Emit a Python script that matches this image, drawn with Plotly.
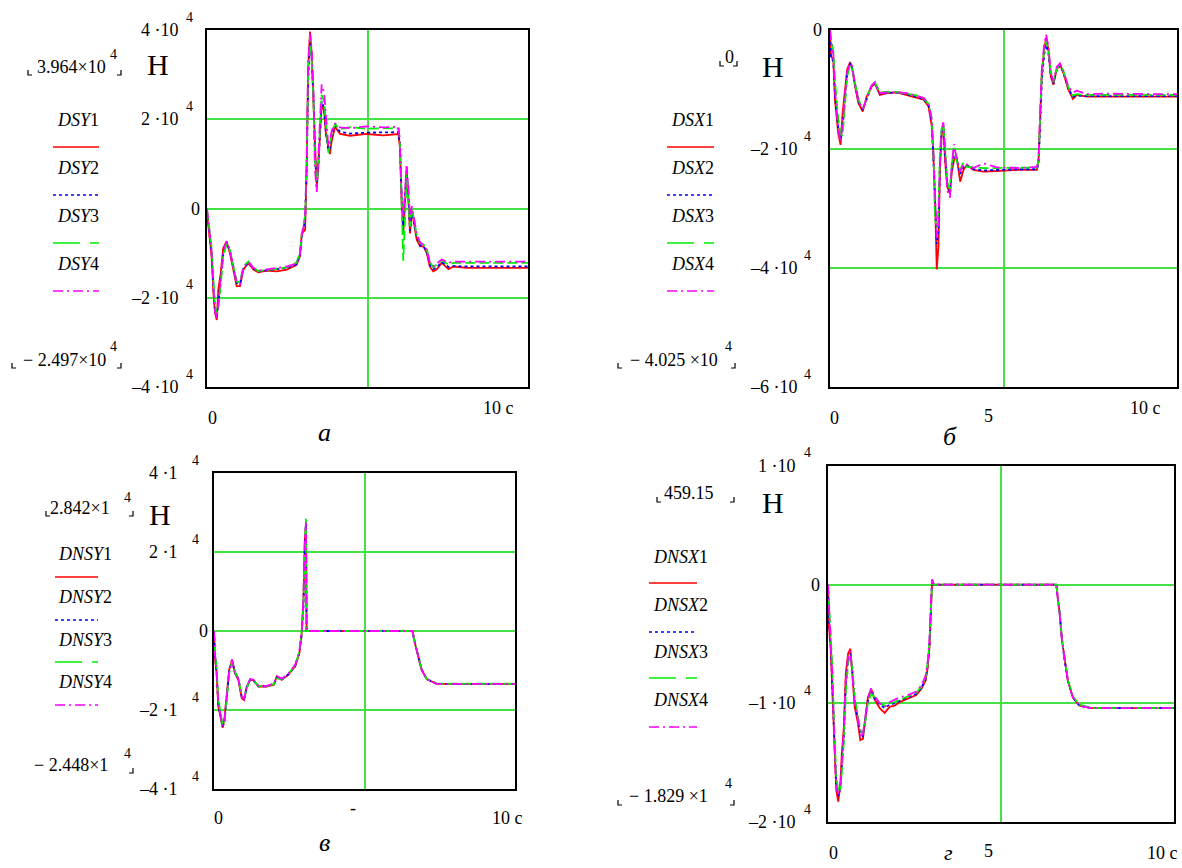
import plotly.graph_objects as go

W, H = 1182, 868

# ---------------- DATA ----------------
# Panel а : DSY (N) vs time (s)
t_a = [0, 0.08, 0.15, 0.21, 0.26, 0.32, 0.37, 0.45, 0.53, 0.64, 0.75, 0.86, 0.97, 1.08, 1.19, 1.35,
       1.52, 1.68, 1.95, 2.28, 2.61, 2.93, 3.04, 3.10, 3.21, 3.26, 3.31, 3.37, 3.42, 3.48, 3.53, 3.59,
       3.64, 3.70, 3.75, 3.83, 3.89, 3.97, 4.02, 4.08, 4.19, 4.35, 4.68, 5.22, 5.77, 6.26, 6.31, 6.37,
       6.42, 6.48, 6.53, 6.59, 6.64, 6.70, 6.75, 6.86, 6.97, 7.08, 7.19, 7.29, 7.40, 7.51, 7.68, 7.90,
       8.06, 8.49, 10.5]
DSY1 = [-1100, -5600, -10700, -18900, -23300, -24970, -18100, -14400, -8900, -7400, -10000, -13700, -17400,
        -17400, -13700, -12200, -13700, -14300, -13900, -14100, -13700, -12600, -10700, -5600, -4800, 9300,
        31500, 39640, 35200, 24100, 13000, 4800, 9300, 16700, 23300, 21900, 16700, 13700, 12200, 15200,
        18300, 16700, 16300, 16700, 16400, 16700, 13700, 400, -5600, 1900, 9300, 1900, -5600, -400, -2600,
        -7000, -8500, -8500, -10000, -13000, -14100, -13700, -12200, -13600, -13000, -13300, -13300]
DSY2 = [-600, -5000, -9800, -17500, -22800, -24400, -21500, -16000, -10200, -7700, -9600, -13200, -16700,
        -16800, -13400, -12100, -13500, -14100, -13800, -13600, -13300, -12500, -10500, -6500, -2500, 8500,
        29000, 37000, 34000, 26000, 12500, 5000, 9500, 17200, 24000, 22500, 17000, 13000, 13500, 16500,
        18600, 17200, 16800, 17000, 17000, 17100, 14500, 1500, -4000, 3000, 8500, 2500, -5000, -800, -2200,
        -6500, -8300, -8400, -9700, -12600, -13600, -13200, -12000, -13100, -12900, -13000, -13000]
DSY3 = [-300, -4200, -8600, -16000, -21500, -23800, -22500, -17000, -10800, -7900, -9300, -12800, -16400,
        -16500, -13000, -11900, -13300, -14000, -13700, -13500, -13200, -12100, -9800, -5800, -1500, 9800,
        30500, 38500, 33500, 25000, 11500, 4200, 10500, 19000, 25500, 24000, 18500, 12500, 14200, 17200,
        18900, 17800, 18200, 17900, 18000, 17900, 15500, -2000, -11700, -2000, 7500, 1000, -4000, 200, -1500,
        -6000, -7800, -8000, -9000, -12000, -13200, -12600, -11600, -12600, -12200, -12200, -12200]
DSY4 = [0, -4500, -9500, -17800, -23000, -24600, -20500, -15500, -9600, -7300, -9400, -13000, -16600,
        -16900, -13200, -11900, -13300, -13900, -13600, -13300, -13000, -12300, -10200, -6200, -2000, 11000,
        33000, 39200, 36000, 27000, 9000, 3700, 11000, 20500, 27800, 26000, 20000, 14000, 15000, 17500,
        19000, 18200, 18000, 18400, 18200, 18300, 15000, 2500, -2000, 4000, 9500, 4500, -2500, 500, -1200,
        -5800, -7600, -8200, -9300, -12200, -13000, -12400, -11400, -12200, -11900, -11900, -11900]

# Panel б : DSX
t_b = [0, 0.03, 0.10, 0.15, 0.25, 0.32, 0.38, 0.45, 0.52, 0.61, 0.66, 0.76, 0.86, 0.99, 1.11, 1.26, 1.36,
       1.51, 1.72, 2.02, 2.32, 2.62, 2.83, 2.98, 3.08, 3.13, 3.18, 3.23, 3.28, 3.33, 3.38, 3.43, 3.48,
       3.55, 3.63, 3.68, 3.75, 3.83, 3.94, 4.04, 4.14, 4.34, 4.64, 5.05, 5.75, 6.26, 6.31, 6.36, 6.41,
       6.48, 6.54, 6.61, 6.68, 6.76, 6.86, 6.96, 7.06, 7.21, 7.35, 7.47, 7.77, 8.27, 10.5]
DSX1 = [0, -4400, -5000, -11700, -17400, -19300, -14000, -10600, -6600, -5400, -6100, -9500, -12300, -13700,
        -11200, -9500, -9000, -10900, -10600, -10500, -10900, -11300, -11700, -12800, -16200, -21300, -28600,
        -40250, -36500, -23000, -17400, -16200, -21900, -26400, -27500, -24100, -21900, -21300, -25500,
        -23500, -22700, -23500, -23800, -23700, -23500, -23500, -21900, -14500, -7200, -3300, -1300, -3300,
        -7800, -9200, -6600, -5800, -7200, -10000, -11600, -10900, -11200, -11200, -11200]
DSX2 = [0, -4800, -5200, -11000, -16500, -18500, -16500, -11500, -7200, -5700, -6000, -9200, -12000, -13400,
        -11500, -9400, -8900, -10700, -10600, -10500, -10800, -11200, -11600, -12600, -15500, -22000, -30000,
        -36000, -34000, -21500, -16800, -16000, -21000, -26000, -27200, -23500, -21000, -21600, -24200,
        -23000, -22800, -23400, -23600, -23500, -23400, -23400, -22500, -16000, -8500, -4200, -2500, -4000,
        -7500, -9000, -6700, -6000, -7100, -9800, -11200, -11000, -11100, -11100, -11100]
DSX3 = [0, -1500, -3500, -8500, -15000, -17500, -17800, -12500, -7800, -5900, -6200, -9000, -11700, -13200,
        -11700, -9200, -8800, -10500, -10400, -10400, -10700, -11000, -11500, -12400, -14800, -21000, -32000,
        -33000, -30500, -20000, -16500, -15800, -19500, -25500, -26800, -22800, -19800, -22000, -23500,
        -22200, -23000, -23100, -23200, -23200, -23200, -23100, -22000, -13500, -6800, -3500, -1800, -3500,
        -7000, -8800, -6500, -5800, -6900, -9600, -11000, -10800, -10900, -10900, -10900]
DSX4 = [0, -2000, -4000, -10000, -16800, -18800, -15500, -11200, -7000, -5600, -6000, -9100, -11800, -13300,
        -11400, -9300, -8800, -10600, -10500, -10400, -10600, -11000, -11400, -12300, -15000, -20500, -29000,
        -35000, -32500, -22000, -17000, -15500, -20000, -27000, -28200, -23000, -19200, -21500, -23800,
        -22500, -22600, -23200, -22400, -23100, -23200, -23000, -21500, -14000, -6500, -2500, -800, -2800,
        -7200, -8600, -6200, -5600, -6800, -9500, -10500, -10200, -10800, -10700, -10800]

# Panel в : DNSY
t_c = [0, 0.03, 0.09, 0.15, 0.23, 0.30, 0.36, 0.44, 0.53, 0.63, 0.73, 0.85, 0.97, 1.05, 1.14, 1.26, 1.37,
       1.55, 1.84, 2.09, 2.19, 2.36, 2.59, 2.83, 2.98, 3.06, 3.12, 3.17, 3.21, 3.23, 6.92, 7.01, 7.13,
       7.24, 7.42, 7.77, 10.5]
DNSY1 = [0, -6400, -10700, -19200, -21700, -24480, -22500, -15800, -9800, -7300, -10700, -12400, -17000,
         -17500, -14100, -12400, -12400, -14100, -14100, -13600, -11500, -12400, -11100, -9000, -5600, -500,
         8000, 23200, 26500, 0, 0, -3100, -6400, -9800, -12200, -13400, -13400]
DNSY2 = [0, -6000, -10200, -18500, -21500, -24200, -23200, -16500, -10300, -7500, -10500, -12200, -16800,
         -17200, -14400, -12300, -12500, -14000, -14000, -13500, -11800, -12300, -11000, -8900, -5400, -800,
         6000, 21000, 27000, 0, 0, -3000, -6300, -9700, -12100, -13400, -13400]
DNSY3 = [0, -4500, -9000, -17000, -20800, -23800, -23600, -17200, -10800, -7700, -10300, -12000, -16500,
         -17000, -14600, -12200, -12400, -13900, -14000, -13400, -12000, -12200, -10900, -8700, -5200, -300,
         7500, 22500, 28420, 0, 0, -2900, -6200, -9600, -12100, -13300, -13300]
DNSY4 = [0, -5500, -9800, -18000, -21300, -24000, -23000, -16000, -10000, -7200, -10400, -12100, -16700,
         -17100, -14300, -12200, -12300, -13900, -13900, -13300, -11400, -12100, -10800, -8600, -5000, -200,
         8500, 24000, 27500, 0, 0, -3000, -6300, -9700, -12200, -13400, -13400]

# Panel г : DNSX
t_d = [0, 0.03, 0.08, 0.13, 0.17, 0.21, 0.25, 0.31, 0.37, 0.42, 0.48, 0.54, 0.61, 0.68, 0.74, 0.81, 0.91,
       0.98, 1.06, 1.13, 1.21, 1.31, 1.42, 1.57, 1.72, 1.87, 2.02, 2.17, 2.43, 2.68, 2.83, 2.96, 3.03,
       3.08, 3.13, 3.16, 3.21, 6.93, 6.98, 7.03, 7.10, 7.18, 7.28, 7.43, 7.63, 7.99, 10.49]
DNSX1 = [0, -3600, -5300, -8600, -12000, -14800, -17300, -18290, -17000, -14200, -12000, -7500, -5800, -5400,
         -7500, -10300, -11700, -13100, -13000, -11200, -9500, -8800, -9700, -10400, -10800, -10300, -10200,
         -9900, -9600, -9300, -8800, -8100, -6900, -5300, -1900, 400, 0, 0, -1300, -2400, -4700, -6400, -8100,
         -9500, -10200, -10400, -10400]
DNSX2 = [0, -3000, -5000, -8000, -11200, -14200, -16800, -17800, -17300, -15000, -12800, -8500, -6200, -5800,
         -7200, -9800, -11300, -12500, -12800, -11500, -9800, -9000, -9600, -10100, -10400, -10100, -10000,
         -9800, -9500, -9200, -8700, -8000, -6700, -5000, -1500, 300, 0, 0, -1300, -2400, -4600, -6400, -8100,
         -9500, -10200, -10400, -10400]
DNSX3 = [0, -1500, -4200, -6800, -10500, -13500, -16200, -17300, -17500, -15800, -13200, -9200, -6600, -6000,
         -7000, -9500, -11000, -12200, -12600, -11600, -10000, -9200, -9500, -10000, -10200, -10000, -9900,
         -9700, -9400, -9100, -8600, -7800, -6500, -4800, -1200, 200, 0, 0, -1200, -2300, -4600, -6300, -8000,
         -9400, -10100, -10400, -10400]
DNSX4 = [0, -2500, -4800, -7500, -11500, -14500, -17000, -17700, -17200, -14800, -12300, -8000, -6000, -5600,
         -7300, -9900, -11400, -12700, -12600, -11300, -9600, -8700, -9400, -10000, -10300, -9900, -9700,
         -9500, -9300, -9000, -8500, -7700, -6400, -4600, -1000, 459, 0, 0, -1300, -2400, -4700, -6400, -8100,
         -9500, -10200, -10400, -10400]

# axis tick values
yt_a = [-40000, -20000, 0, 20000, 40000]
yt_b = [-60000, -40000, -20000, 0]
yt_c = [-40000, -20000, 0, 20000, 40000]
yt_d = [-20000, -10000, 0, 10000]

COLORS = ["#ff0000", "#0000ff", "#00ee00", "#ff00ff"]
DASHES = ["solid", "3px,3px", "10px,4px", "10px,4px,2px,4px"]
GRID = "#44e044"
FONT = "Liberation Serif"
FS = 18     # main text size
SS = 14     # superscript size

fig = go.Figure()


def px(x):
    return x / W


def py(y):
    return 1 - y / H


panels = [
    ("x", "y", t_a, [DSY1, DSY2, DSY3, DSY4]),
    ("x2", "y2", t_b, [DSX1, DSX2, DSX3, DSX4]),
    ("x3", "y3", t_c, [DNSY1, DNSY2, DNSY3, DNSY4]),
    ("x4", "y4", t_d, [DNSX1, DNSX2, DNSX3, DNSX4]),
]
for xa, ya, t, series in panels:
    for i, s in enumerate(series):
        fig.add_trace(go.Scatter(x=t, y=s, xaxis=xa, yaxis=ya, mode="lines",
                                 line=dict(color=COLORS[i], width=1.8, dash=DASHES[i]),
                                 showlegend=False, hoverinfo="skip"))

boxes = {
    "": ([207, 528], [30, 387], [-40000, 40000], yt_a),
    "2": ([830, 1177], [30, 387], [-60000, 0], yt_b),
    "3": ([214, 515], [473, 789], [-40000, 40000], yt_c),
    "4": ([828, 1174], [466, 822], [-20000, 10000], yt_d),
}
lay = {}
for k, (bx, by, yr, yt) in boxes.items():
    lay["xaxis" + k] = dict(domain=[px(bx[0]), px(bx[1])], range=[0, 10.5], tickvals=[5.25],
                            showticklabels=False, ticks="", showgrid=True, gridcolor=GRID, gridwidth=1.5,
                            zeroline=False, showline=True, mirror=True, linecolor="black", linewidth=1.5,
                            anchor="y" + k)
    lay["yaxis" + k] = dict(domain=[py(by[1]), py(by[0])], range=yr, tickvals=yt,
                            showticklabels=False, ticks="", showgrid=True, gridcolor=GRID, gridwidth=1.5,
                            zeroline=False, showline=True, mirror=True, linecolor="black", linewidth=1.5,
                            anchor="x" + k)

ann = []
shapes = []


def text(x, y, s, size=FS, anchor="center", italic=False, xref="paper", yref="paper"):
    ann.append(dict(x=px(x) if xref == "paper" else x, y=py(y) if yref == "paper" else y,
                    xref=xref, yref=yref, text=s, showarrow=False, xanchor=anchor, yanchor="middle",
                    font=dict(family=FONT, size=size, color="black",
                              style="italic" if italic else "normal")))


def bracket(x, y, side):
    d = 4 if side == "l" else -4
    shapes.append(dict(type="path", xref="paper", yref="paper",
                       path=f"M {px(x)},{py(y - 5)} L {px(x)},{py(y)} L {px(x + d)},{py(y)}",
                       line=dict(color="black", width=1.2)))


def sample(x0, x1, y, i):
    shapes.append(dict(type="line", xref="paper", yref="paper", x0=px(x0), x1=px(x1), y0=py(y), y1=py(y),
                       line=dict(color=COLORS[i], width=1.4, dash=DASHES[i] if i != 2 else "27px,10px")))


def ytick(yref, val, s, xr, sup=None, supx=None):
    ann.append(dict(x=px(xr), y=val, xref="paper", yref=yref, text=s, showarrow=False, xanchor="right",
                    yanchor="middle", font=dict(family=FONT, size=FS, color="black")))
    if sup:
        ann.append(dict(x=px(supx), y=val, xref="paper", yref=yref, text=sup, showarrow=False,
                        xanchor="center", yanchor="middle", yshift=13,
                        font=dict(family=FONT, size=SS, color="black")))


# ---- panel а ----
ytick("y", 40000, "4 ·10", 181, "4", 189)
ytick("y", 20000, "2 ·10", 181, "4", 189)
ytick("y", 0, "0", 202)
ytick("y", -20000, "–2 ·10", 181, "4", 189)
ytick("y", -40000, "–4 ·10", 181, "4", 189)
text(108, 67, "3.964×10", anchor="right")
text(113, 54, "4", size=SS)
bracket(28, 75, "l"); bracket(121, 75, "r")
text(158, 65, "H", size=30)
for i, (yy, ly) in enumerate(zip([120, 168, 216, 264], [147, 195, 243, 291])):
    text(78, yy, f"<i>DSY</i>{i+1}")
    sample(53, 99, ly, i)
text(108, 360, "− 2.497×10", anchor="right")
text(113, 347, "4", size=SS)
bracket(12, 368, "l"); bracket(121, 368, "r")
text(206, 418, "0", anchor="left")
text(498, 408, "10 c")
text(325, 432, "а", size=26, italic=True)

# ---- panel б ----
ytick("y2", 0, "0", 824)
ytick("y2", -20000, "–2 ·10", 800, "4", 807)
ytick("y2", -40000, "–4 ·10", 800, "4", 807)
ytick("y2", -60000, "–6 ·10", 800, "4", 807)
text(729, 57, "0")
bracket(720, 66, "l"); bracket(737, 66, "r")
text(773, 66, "H", size=30)
for i, (yy, ly) in enumerate(zip([120, 168, 216, 264], [147, 195, 243, 291])):
    text(692, yy, f"<i>DSX</i>{i+1}")
    sample(667, 714, ly, i)
text(720, 360, "− 4.025 ×10", anchor="right")
text(728, 347, "4", size=SS)
bracket(618, 368, "l"); bracket(735, 368, "r")
text(834, 418, "0")
text(988, 416, "5")
text(1145, 408, "10 c")
text(950, 436, "б", size=26, italic=True)

# ---- panel в ----
for v, s in [(40000, "4 ·1"), (20000, "2 ·1"), (-20000, "–2 ·1"), (-40000, "–4 ·1")]:
    ytick("y3", v, s, 180, "4", 195)
ytick("y3", 0, "0", 210)
text(48, 508, "2.842×1", anchor="left")
text(127, 497, "4", size=SS)
bracket(46, 516, "l"); bracket(133, 516, "r")
text(160, 514, "H", size=30)
for i, (yy, ly) in enumerate(zip([554, 597, 640, 682], [577, 620, 662, 705])):
    text(85, yy, f"<i>DNSY</i>{i+1}")
    sample(55, 98, ly, i)
text(110, 765, "− 2.448×1", anchor="right")
text(127, 753, "4", size=SS)
bracket(133, 773, "r")
text(218, 818, "0")
text(353, 808, "-")
text(507, 818, "10 c")
text(325, 842, "в", size=26, italic=True)

# ---- panel г ----
ytick("y4", 10000, "1 ·10", 798, "4", 807)
ytick("y4", 0, "0", 822)
ytick("y4", -10000, "–1 ·10", 798, "4", 807)
ytick("y4", -20000, "–2 ·10", 798, "4", 807)
text(662, 493, "459.15", anchor="left")
bracket(657, 502, "l"); bracket(734, 502, "r")
text(773, 503, "H", size=30)
for i, (yy, ly) in enumerate(zip([557, 605, 652, 700], [583, 632, 678, 727])):
    text(680, yy, f"<i>DNSX</i>{i+1}")
    sample(649, 697, ly, i)
text(710, 796, "− 1.829 ×1", anchor="right")
text(728, 783, "4", size=SS)
bracket(618, 805, "l"); bracket(734, 805, "r")
text(833, 853, "0")
text(988, 851, "5")
text(1162, 853, "10 c")
text(948, 852, "г", size=22, italic=True)

fig.update_layout(width=W, height=H, margin=dict(l=0, r=0, t=0, b=0), paper_bgcolor="white",
                  plot_bgcolor="white", showlegend=False, annotations=ann, shapes=shapes, **lay)
fig.write_html("out.html")
